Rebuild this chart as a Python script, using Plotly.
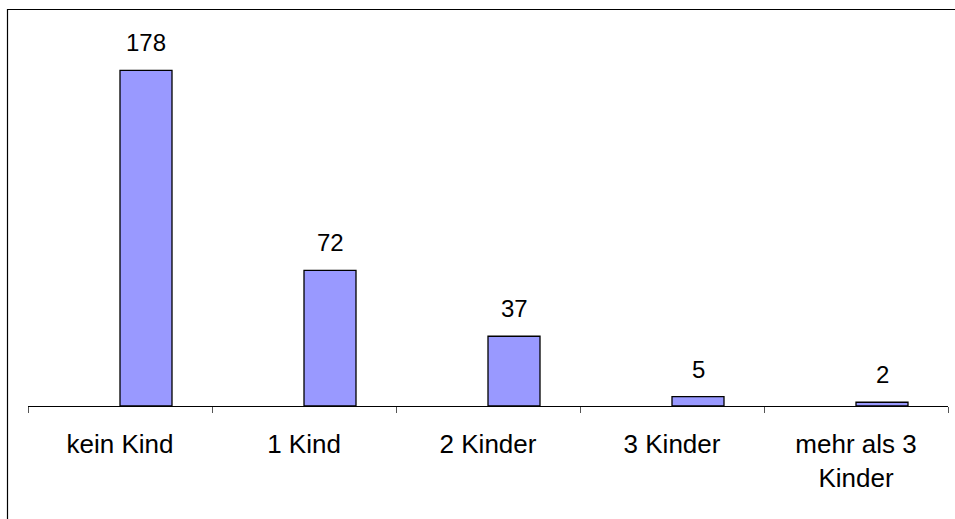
import plotly.graph_objects as go

categories = ["kein Kind", "1 Kind", "2 Kinder", "3 Kinder", "mehr als 3<br>Kinder"]
values = [178, 72, 37, 5, 2]

BAR_W = 52 / 184
FONT = "Liberation Sans, Arial, sans-serif"

fig = go.Figure()
fig.add_trace(go.Bar(
    x=categories, y=values,
    offset=0, width=BAR_W,
    marker=dict(color="#9999FF", line=dict(color="black", width=1.3)),
    hoverinfo="skip",
))

for i, v in enumerate(values):
    fig.add_annotation(x=i + BAR_W / 2, y=v, text=str(v), showarrow=False,
                       yanchor="bottom", yshift=12,
                       font=dict(family=FONT, size=24, color="black"))

# outer chart border (cropped at right/bottom)
fig.add_shape(type="rect", xref="paper", yref="paper",
              x0=(7.5 - 28) / 920, x1=1.5, y0=-1, y1=(406 - 9.5) / 377,
              line=dict(color="black", width=1.2), fillcolor="rgba(0,0,0,0)",
              layer="below")

fig.update_layout(
    width=955, height=519,
    margin=dict(l=28, r=7, t=29, b=113),
    paper_bgcolor="white", plot_bgcolor="white",
    showlegend=False,
    font=dict(family=FONT, size=26, color="black"),
    xaxis=dict(showline=True, linecolor="black", linewidth=1,
               ticks="outside", ticklen=6, tickcolor="#555", tickwidth=1,
               tickson="boundaries", showgrid=False, zeroline=False,
               ticklabelstandoff=15,
               tickfont=dict(family=FONT, size=26, color="black"),
               fixedrange=True),
    yaxis=dict(range=[0, 200], visible=False, showgrid=False, fixedrange=True),
)

fig.write_html("out.html", config={"displayModeBar": False},
               post_script="document.body.style.margin='0';document.body.style.overflow='hidden';")
